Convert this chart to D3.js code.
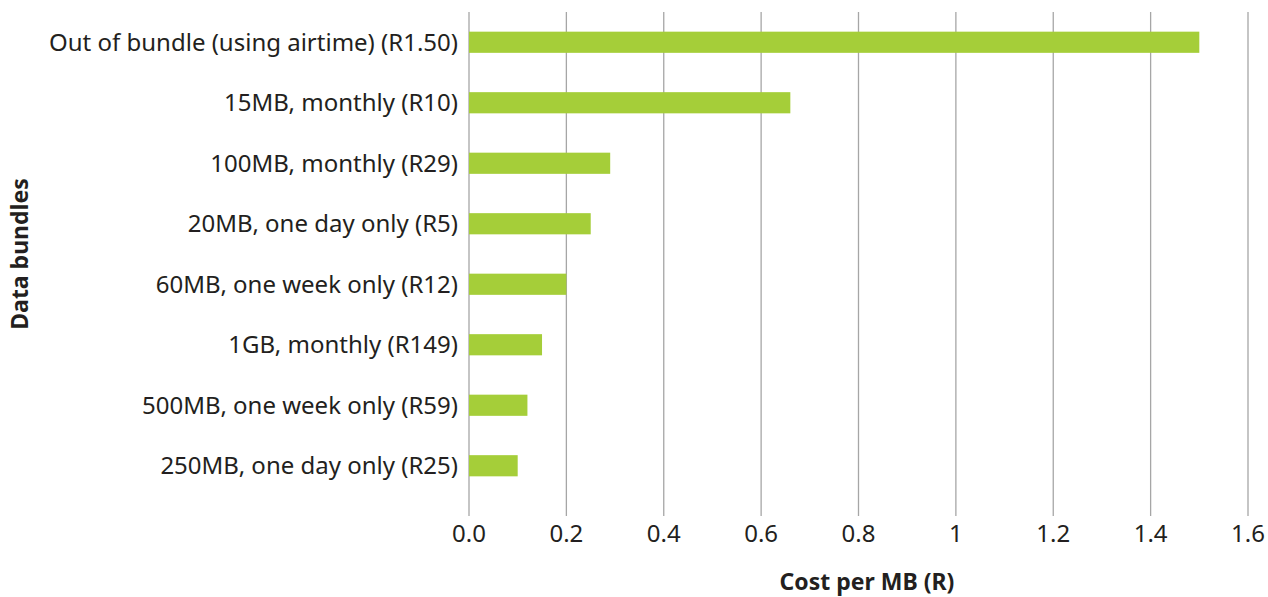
<!DOCTYPE html>
<html><head><meta charset="utf-8">
<script src="https://cdn.jsdelivr.net/npm/d3@7"></script>
<style>body{margin:0;background:#fff;} text{font-family:"Noto Sans",sans-serif;fill:#231f20;}</style>
</head><body>
<svg id="c" width="1268" height="597"></svg>
<script>
const categories = ["Out of bundle (using airtime) (R1.50)","15MB, monthly (R10)","100MB, monthly (R29)","20MB, one day only (R5)","60MB, one week only (R12)","1GB, monthly (R149)","500MB, one week only (R59)","250MB, one day only (R25)"];
const values = [1.5, 0.66, 0.29, 0.25, 0.2, 0.15, 0.12, 0.1];
const xTicks = [0, 0.2, 0.4, 0.6, 0.8, 1, 1.2, 1.4, 1.6];
const xTickLabels = ["0.0","0.2","0.4","0.6","0.8","1","1.2","1.4","1.6"];
const xTitle = "Cost per MB (R)";
const yTitle = "Data bundles";

const svg = d3.select("#c");
const x = d3.scaleLinear().domain([0,1.6]).range([469,1248]);
const y = d3.scaleBand().domain(categories).range([12,496]).paddingInner(0.65).paddingOuter(0.325);

svg.append("g").selectAll("line").data(xTicks).join("line")
  .attr("x1",d=>x(d)).attr("x2",d=>x(d)).attr("y1",12).attr("y2",516)
  .attr("stroke","#a6a6a6").attr("stroke-width",1.3);

svg.append("g").selectAll("rect").data(values).join("rect")
  .attr("x",x(0)).attr("y",(d,i)=>y(categories[i]))
  .attr("width",d=>x(d)-x(0)).attr("height",y.bandwidth())
  .attr("fill","#a5ce39");

svg.append("g").selectAll("text").data(categories).join("text")
  .attr("x",458).attr("y",d=>y(d)+y.bandwidth()/2).attr("dy","0.36em")
  .attr("text-anchor","end").attr("font-size",24).text(d=>d);

svg.append("g").selectAll("text").data(xTicks).join("text")
  .attr("x",d=>x(d)).attr("y",542).attr("text-anchor","middle").attr("font-size",24)
  .text((d,i)=>xTickLabels[i]);

svg.append("text").attr("x",867).attr("y",590).attr("text-anchor","middle")
  .attr("font-size",23).attr("font-weight","bold").text(xTitle);
svg.append("text").attr("transform","translate(28,254) rotate(-90)").attr("text-anchor","middle")
  .attr("font-size",23).attr("font-weight","bold").text(yTitle);
</script>
</body></html>
